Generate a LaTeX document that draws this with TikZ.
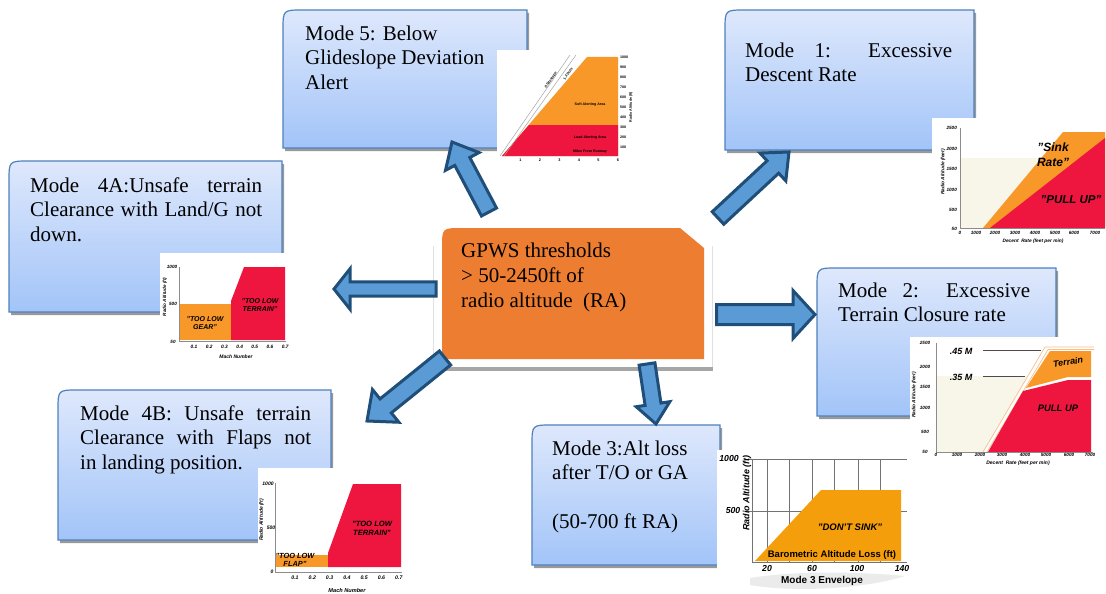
\documentclass[tikz,border=0pt]{standalone}
\usepackage{fontspec}
\setmainfont{Liberation Serif}
\setsansfont{Liberation Sans}
\usetikzlibrary{calc}

\definecolor{boxtop}{RGB}{222,232,252}
\definecolor{boxbot}{RGB}{162,196,248}
\definecolor{boxline}{RGB}{79,129,189}
\definecolor{hubfill}{RGB}{237,125,49}
\definecolor{arrowfill}{RGB}{91,155,213}
\definecolor{arrowline}{RGB}{31,78,121}
\definecolor{chartorange}{RGB}{248,152,40}
\definecolor{chartred}{RGB}{238,22,62}
\definecolor{envorange}{RGB}{245,158,12}
\definecolor{beige}{RGB}{247,246,232}
\definecolor{peach}{RGB}{250,190,140}

\tikzset{
  modebox/.style={draw=boxline, line width=1.2pt, top color=boxtop, bottom color=boxbot},
  boxshadow/.style={fill=black!40},
  boxtext/.style={anchor=north west, inner sep=0pt, align=left,
                  font=\fontsize{21}{24.5}\selectfont},
  blockarrow/.style={fill=arrowfill, draw=arrowline, line width=3pt, line join=miter},
  lbl/.style={inner sep=0pt, font=\sffamily\bfseries\itshape\fontsize{#1}{#1}\selectfont},
  lblup/.style={inner sep=0pt, font=\sffamily\bfseries\fontsize{#1}{#1}\selectfont},
  axisline/.style={draw=black!45, line width=0.6pt},
}

% justified line of given width (pt)
\newcommand\jl[2]{\makebox[#1pt][s]{#2}}

% rounded-corner mode box with drop shadow: x1 y1 x2 y2
\newcommand\modebox[4]{%
  \fill[boxshadow] (#1+2,#4+3) -- (#1+2,#2+23) .. controls (#1+2,#2+3) .. (#1+22,#2+3)
     -- (#3+2,#2+3) -- (#3+2,#4+3) -- cycle;
  \path[modebox] (#1,#4) -- (#1,#2+20) .. controls (#1,#2) .. (#1+20,#2)
     -- (#3,#2) -- (#3,#4) -- cycle;}

% block arrow: x1 y1 (tail) x2 y2 (tip) shaft-half head-half head-length
\newcommand\blockarrow[7]{%
  \pgfmathsetmacro\arang{atan2(#2-#4,#3-#1)}%
  \pgfmathsetmacro\arlen{veclen(#3-#1,#4-#2)}%
  \pgfmathsetmacro\arbase{\arlen-#7}%
  \begin{scope}[shift={(#1,#2)}, rotate=\arang]
    \draw[blockarrow] (0,-#5) -- (\arbase,-#5) -- (\arbase,-#6) -- (\arlen,0)
      -- (\arbase,#6) -- (\arbase,#5) -- (0,#5) -- cycle;
  \end{scope}}

\begin{document}
\begin{tikzpicture}[x=1pt,y=-1pt]
\useasboundingbox (0,0) rectangle (1106,594);
\fill[white] (0,0) rectangle (1106,594);

% ---------------- mode boxes ----------------
\modebox{283}{10}{527}{148}
\modebox{725}{10}{974}{150}
\modebox{9}{161}{282}{312}
\modebox{817}{268}{1056}{416}
\modebox{58}{390}{331}{540}
\modebox{532}{425}{720}{565}

\node[boxtext] (t5) at (305,40-17.15) {\strut Mode 5: Below\\Glideslope Deviation\\Alert};
\node[boxtext] (t1) at (745,57-17.15) {\strut\jl{207}{Mode 1: Excessive}\\Descent Rate};
\node[boxtext] (t4a) at (30,192-17.15) {\strut\jl{232}{Mode 4A:Unsafe terrain}\\\jl{232}{Clearance with Land/G not}\\down.};
\node[boxtext] (t2) at (838,297-17.15) {\strut\jl{192}{Mode 2: Excessive}\\Terrain Closure rate};
\node[boxtext] (t4b) at (80,420-17.15) {\strut\jl{231}{Mode 4B: Unsafe terrain}\\\jl{231}{Clearance with Flaps not}\\in landing position.};
\node[boxtext] (t3) at (552,455-17.15) {\strut Mode 3:Alt loss\\after T/O or GA\\~\\(50-700 ft RA)};

% ---------------- central hub ----------------
\draw[black!12, line width=0.7pt] (433,246) -- (433,368);
\draw[black!12, line width=0.7pt] (712,246) -- (712,368);
\fill[black!35] (436,367) rectangle (713,371);
\fill[hubfill] (442,359) -- (442,248) .. controls (442,228) .. (462,228) -- (680,228)
   -- (704,248) -- (704,359) -- cycle;
\node[anchor=north west, inner sep=0pt, align=left, font=\fontsize{21}{25}\selectfont]
  (hub) at (461,257-17.5) {\strut GPWS thresholds\\> 50-2450ft of\\radio altitude\ \ (RA)};

% ---------------- block arrows ----------------
\blockarrow{436}{289}{334}{289}{7.2}{20.2}{16}
\blockarrow{716.5}{314.5}{815}{314.5}{10}{24}{22}
\blockarrow{718}{218}{789}{152}{8.5}{19}{22}
\blockarrow{489}{212}{452}{142}{8.5}{19}{22}
\blockarrow{445}{358}{367}{421}{9}{21}{24}
\blockarrow{647}{364}{656}{424}{8}{17}{20}

% ---------------- Mode 5 chart ----------------
\fill[white] (497,50) rectangle (634,164);
\fill[chartorange] (502,156) -- (587,57) -- (618,57) -- (618,156) -- cycle;
\fill[chartred] (502,156) -- (529,125) -- (618,125) -- (618,156) -- cycle;
\draw[black!35, line width=0.5pt] (500,156) -- (570,55);
\draw[black!35, line width=0.5pt] (504,156) -- (576,55);
\node[lblup=3.6, rotate=55] (m5gs) at (551,80) {Glideslope};
\node[lblup=3.6, rotate=55] (m5dots) at (568,74) {1.3 Dots};
\node[lblup=3.6] (m5soft) at (590,105) {Soft Alerting Area};
\node[lblup=3.6] (m5load) at (590,138) {Load Alerting Area};
\node[lblup=3.6] (m5miles) at (590,152) {Miles From Runway};
\foreach \v [count=\k] in {1000,900,800,700,600,500,400,300,200,100}
  \node[lblup=3.6, anchor=west] (m5y\k) at (620,57+10*\k-10) {\v};
\foreach \k in {1,...,6}
  \node[lblup=3.8] (m5x\k) at (501+19.5*\k,160) {\k};
\node[lblup=3.6, rotate=90] (m5yt) at (631,107) {Radio Altitude (ft)};

% ---------------- Mode 1 chart ----------------
\fill[white] (932,118) rectangle (1106,247);
\fill[beige] (961,158) rectangle (1062,228);
\fill[chartorange] (983,228) -- (1063,132) -- (1105,132) -- (1105,228) -- cycle;
\fill[chartred] (990,228) -- (1105,138) -- (1105,228) -- cycle;
\draw[axisline] (960,128) -- (960,228) -- (1105,228);
\foreach \v/\y [count=\k] in {2500/128,2000/149,1500/169,1000/190,500/210,50/229}
  \node[lbl=4.6, anchor=east] (m1y\k) at (957,\y) {\v};
\foreach \v/\x [count=\k] in {0/960,1000/976,2000/995,3000/1015,4000/1035,5000/1055,6000/1074,7000/1095}
  \node[lbl=4.6] (m1x\k) at (\x,233) {\v};
\node[lbl=4.8] (m1xt) at (1033,241) {Decent\ \ Rate (feet per min)};
\node[lbl=4.8, rotate=90] (m1yt) at (943,172) {Radio Altitude (feet)};
\node[lbl=12, align=center, font=\sffamily\bfseries\itshape\fontsize{12}{15}\selectfont]
  (m1sink) at (1053,155) {"Sink\\Rate"};
\node[lbl=11.5] (m1pull) at (1071,200) {"PULL UP"};

% ---------------- Mode 4A chart ----------------
\fill[white] (160,253) rectangle (314,363);
\fill[chartorange] (180,304) rectangle (231,340);
\fill[chartred] (231,340) -- (231,301) -- (244,267) -- (285,267) -- (285,340) -- cycle;
\draw[axisline] (179,267) -- (179,341) -- (286,341);
\node[lbl=4.6] (a4y1) at (172,267) {1000};
\node[lbl=4.6] (a4y2) at (173,304) {500};
\node[lbl=4.6] (a4y3) at (173,342) {50};
\foreach \v [count=\k] in {0.1,0.2,0.3,0.4,0.5,0.6,0.7}
  \node[lbl=4.8] (a4x\k) at (194+15.2*\k-15.2,347) {\v};
\node[lbl=5] (a4xt) at (236,357) {Mach Number};
\node[lbl=4.6, rotate=90] (a4yt) at (165,297) {Radio Altitude (ft)};
\node[lbl=7, align=center, font=\sffamily\bfseries\itshape\fontsize{7}{7.7}\selectfont]
  (a4gear) at (205,323) {"TOO LOW\\GEAR"};
\node[lbl=7, align=center, font=\sffamily\bfseries\itshape\fontsize{7}{7.7}\selectfont]
  (a4terr) at (260,305) {"TOO LOW\\TERRAIN"};

% ---------------- Mode 2 chart ----------------
\fill[white] (910,337) rectangle (1096,470);
\fill[beige] (937,376) -- (1028,376) -- (983,452) -- (937,452) -- cycle;
\draw[peach, line width=0.7pt] (983,452) -- (1045,347) -- (1094,347);
\draw[peach, line width=0.7pt] (987,452) -- (1048,349.5) -- (1094,349.5);
\fill[chartorange] (1026,388) -- (1050,351) -- (1091,351) -- (1091,377) -- (1068,377) -- cycle;
\fill[chartred] (988,452) -- (1023,391) -- (1068,380) -- (1091,380) -- (1091,452) -- cycle;
\draw[axisline] (936,343) -- (936,452) -- (1093,452);
\draw[black!70, line width=0.6pt] (983,350) -- (1041,350);
\draw[black!70, line width=0.6pt] (983,376) -- (1025,376);
\node[lbl=9] (m2a) at (961,351) {.45 M};
\node[lbl=9] (m2b) at (961,377) {.35 M};
\node[lbl=9.4] (m2pull) at (1058,408) {PULL UP};
\node[lbl=9, rotate=8] (m2terr) at (1068,362) {Terrain};
\foreach \v/\y [count=\k] in {2500/343,2000/367,1500/387,1000/408,500/432,50/452}
  \node[lbl=4.6] (m2y\k) at (925,\y) {\v};
\foreach \v/\x [count=\k] in {0/936,1000/957,2000/980,3000/1002,4000/1025,5000/1046,6000/1069,7000/1090}
  \node[lbl=4.6] (m2x\k) at (\x,455) {\v};
\node[lbl=5] (m2xt) at (1018,463) {Decent\ \ Rate (feet per min)};
\node[lbl=4.8, rotate=90] (m2yt) at (914,395) {Radio Altitude (feet)};

% ---------------- Mode 4B chart ----------------
\fill[white] (258,468) rectangle (416,594);
\fill[chartorange] (276,555) rectangle (328,567);
\fill[chartred] (328,567) -- (328,553) -- (353,484) -- (401,484) -- (401,567) -- cycle;
\draw[axisline] (275,483) -- (275,572) -- (402,572);
\node[lbl=5] (b4y1) at (268,484) {1000};
\node[lbl=5] (b4y2) at (271,528) {500};
\node[lbl=5] (b4y3) at (272,572) {0};
\foreach \v [count=\k] in {0.1,0.2,0.3,0.4,0.5,0.6,0.7}
  \node[lbl=5.2] (b4x\k) at (295+17.3*\k-17.3,578) {\v};
\node[lbl=5.6] (b4xt) at (347,590) {Mach Number};
\node[lbl=5, rotate=90] (b4yt) at (261.5,520) {Radio Altitude (ft)};
\node[lbl=7.4, align=center, font=\sffamily\bfseries\itshape\fontsize{7.4}{7.7}\selectfont]
  (b4flap) at (295,560) {"TOO LOW\\FLAP"};
\node[lbl=7.6, align=center, font=\sffamily\bfseries\itshape\fontsize{7.6}{9}\selectfont]
  (b4terr) at (372,528) {"TOO LOW\\TERRAIN"};

% ---------------- Mode 3 chart ----------------
\fill[white] (717,450) rectangle (910,594);
\fill[black!8] (750,578) .. controls (800,570) and (860,572) .. (905,576)
   .. controls (860,590) and (790,592) .. (750,585) -- cycle;
\draw[black!55, line width=0.7pt] (745,459) -- (907,459);
\draw[black!55, line width=0.7pt] (745,511) -- (907,511);
\draw[black!55, line width=0.7pt] (752,459) -- (752,562) -- (907,562);
\foreach \x in {767,789,812,834,858,880}
  \draw[black!55, line width=0.7pt] (\x,459) -- (\x,562);
\fill[envorange] (755,561) -- (821,490) -- (901,490) -- (901,561) -- cycle;
\node[lbl=9.5] (m3sink) at (850,527) {"DON'T SINK"};
\node[lblup=9.5] (m3baro) at (832,555) {Barometric Altitude Loss (ft)};
\node[lbl=8.7] (m3y1) at (729,459) {1000};
\node[lbl=8.7] (m3y2) at (733,511) {500};
\foreach \v/\x [count=\k] in {20/767,60/812,100/857,140/902}
  \node[lbl=8.7] (m3x\k) at (\x,568) {\v};
\node[lbl=9, rotate=90] (m3yt) at (747,493) {Radio Altitude (ft)};
\node[lblup=10] (m3title) at (822,581) {Mode 3 Envelope};
\end{tikzpicture}
\end{document}
